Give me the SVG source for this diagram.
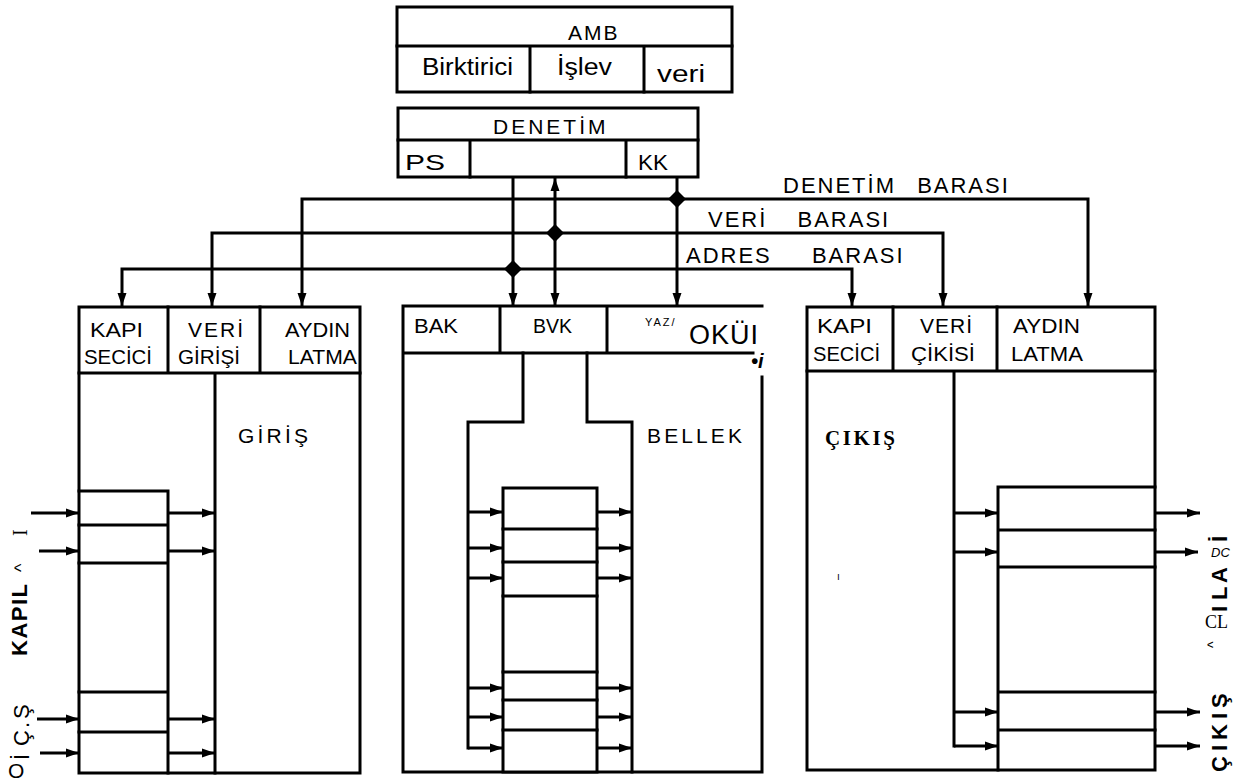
<svg xmlns="http://www.w3.org/2000/svg" width="1234" height="783" viewBox="0 0 1234 783">
<style>
.ln{fill:none;stroke:#000;stroke-width:3;stroke-linejoin:miter;stroke-linecap:square}
.bx{fill:#fff;stroke:#000;stroke-width:3}
.ar{fill:none;stroke:#000;stroke-width:3;marker-end:url(#ah)}
.t{font-family:"Liberation Sans",Arial,sans-serif;font-size:21px;fill:#000}
.bus{font-family:"Liberation Sans",Arial,sans-serif;font-size:22px;letter-spacing:2px;fill:#000}
.b{font-weight:bold}
.sr{font-family:"Liberation Serif","Times New Roman",serif;font-weight:bold;fill:#000}
</style>
<defs>
<marker id="ah" markerWidth="14" markerHeight="12" refX="13" refY="6" orient="auto" markerUnits="userSpaceOnUse">
<path d="M0,1.5 L13,6 L0,10.5 Z" fill="#000"/>
</marker>
<path id="dm" d="M0,-9 L9,0 L0,9 L-9,0 Z" fill="#000"/>
</defs>
<rect width="1234" height="783" fill="#fff"/>

<g id="amb">
<rect class="bx" x="397" y="7" width="335" height="85"/>
<path class="ln" d="M397,46 H732 M530,46 V92 M644,46 V92"/>
<text class="t" x="568" y="40" style="letter-spacing:2px">AMB</text>
<text class="t" x="422" y="75" style="font-size:23px" textLength="91" lengthAdjust="spacingAndGlyphs">Birktirici</text>
<text class="t" x="557" y="75" style="font-size:23px" textLength="55" lengthAdjust="spacingAndGlyphs">İşlev</text>
<text class="t" x="657" y="82" style="font-size:23px" textLength="48" lengthAdjust="spacingAndGlyphs">veri</text>
</g>

<g id="denetim">
<rect class="bx" x="398" y="108" width="300" height="69"/>
<path class="ln" d="M398,140 H698 M470,140 V177 M626,140 V177"/>
<text class="t" x="493" y="134" style="letter-spacing:3px">DENETİM</text>
<text class="t" x="405" y="170" style="font-size:22px" textLength="40" lengthAdjust="spacingAndGlyphs">PS</text>
<text class="t" x="638" y="170" style="font-size:22px" textLength="30" lengthAdjust="spacingAndGlyphs">KK</text>
</g>

<g id="connectors">
<path class="ar" d="M677,199 H302 V306"/>
<path class="ar" d="M677,199 H1088 V306"/>
<path class="ar" d="M677,177 V306"/>
<path class="ar" d="M555,233 H212 V306"/>
<path class="ar" d="M555,233 H943 V306"/>
<path class="ar" d="M555,233 V178"/>
<path class="ar" d="M555,233 V306"/>
<path class="ar" d="M513,269 H122 V306"/>
<path class="ar" d="M513,269 H852 V306"/>
<path class="ar" d="M513,177 V306"/>
<use href="#dm" x="677" y="199"/>
<use href="#dm" x="555" y="233"/>
<use href="#dm" x="513" y="269"/>
<text class="bus" x="783" y="193">DENETİM <tspan dx="13">BARASI</tspan></text>
<text class="bus" x="708" y="227">VERİ <tspan dx="22">BARASI</tspan></text>
<text class="bus" x="686" y="263">ADRES <tspan dx="32">BARASI</tspan></text>
</g>

<g id="giris">
<rect class="bx" x="79" y="307" width="281" height="466"/>
<path class="ln" d="M79,373 H360 M168,307 V373 M260,307 V373 M215,373 V773"/>
<path class="ln" d="M79,491 H168 V773 M79,525 H168 M79,563 H168 M79,692 H168 M79,732 H168"/>
<text class="t" x="90" y="337" textLength="53" lengthAdjust="spacingAndGlyphs">KAPI</text>
<text class="t" x="84" y="364" textLength="68" lengthAdjust="spacingAndGlyphs">SECİCİ</text>
<text class="t" x="188" y="337" textLength="55">VERİ</text>
<text class="t" x="178" y="364" textLength="62" lengthAdjust="spacingAndGlyphs">GİRİŞİ</text>
<text class="t" x="285" y="337" textLength="65" lengthAdjust="spacingAndGlyphs">AYDIN</text>
<text class="t" x="288" y="364" textLength="69" lengthAdjust="spacingAndGlyphs">LATMA</text>
<text class="t" x="238" y="443" textLength="70">GİRİŞ</text>
<path class="ar" d="M31,513 H79"/>
<path class="ar" d="M168,513 H215"/>
<path class="ar" d="M39,551 H79"/>
<path class="ar" d="M168,551 H215"/>
<path class="ar" d="M37,719 H79"/>
<path class="ar" d="M168,719 H215"/>
<path class="ar" d="M40,753 H79"/>
<path class="ar" d="M168,753 H215"/>
</g>

<g id="bellek">
<path class="ln" d="M762,377 V772 H403 V306 H762 M403,353 H753 M500,306 V353 M607,306 V353"/>
<path class="ln" d="M523,353 V422 H468 V748 M587,353 V422 H632 V772"/>
<rect class="bx" x="503" y="488" width="94" height="284"/>
<path class="ln" d="M503,529 H597 M503,562 H597 M503,596 H597 M503,672 H597 M503,700 H597 M503,730 H597"/>
<path class="ar" d="M468,512 H503"/>
<path class="ar" d="M468,548 H503"/>
<path class="ar" d="M468,578 H503"/>
<path class="ar" d="M468,688 H503"/>
<path class="ar" d="M468,717 H503"/>
<path class="ar" d="M468,748 H503"/>
<path class="ar" d="M597,512 H632"/>
<path class="ar" d="M597,548 H632"/>
<path class="ar" d="M597,578 H632"/>
<path class="ar" d="M597,688 H632"/>
<path class="ar" d="M597,717 H632"/>
<path class="ar" d="M597,748 H632"/>
<text class="t" x="414" y="333" textLength="44" lengthAdjust="spacingAndGlyphs">BAK</text>
<text class="t" x="533" y="333" textLength="39" lengthAdjust="spacingAndGlyphs">BVK</text>
<text class="t" x="645" y="326" style="font-size:11px;letter-spacing:2px">YAZ/</text>
<text class="t" x="689" y="344" style="font-size:27px;letter-spacing:1px">OKÜI</text>
<text class="t b" x="751" y="368" style="font-size:20px;font-style:italic">•i</text>
<text class="t" x="647" y="443" textLength="95">BELLEK</text>
</g>

<g id="cikis">
<rect class="bx" x="807" y="307" width="348" height="463"/>
<path class="ln" d="M807,371 H1155 M893,307 V371 M997,307 V371 M954,371 V746"/>
<path class="ln" d="M998,487 H1155 M998,487 V770 M998,530 H1155 M998,567 H1155 M998,692 H1155 M998,730 H1155"/>
<path class="ar" d="M954,513 H998"/>
<path class="ar" d="M954,552 H998"/>
<path class="ar" d="M954,712 H998"/>
<path class="ar" d="M954,746 H998"/>
<path class="ar" d="M1155,513 H1200"/>
<path class="ar" d="M1155,552 H1198"/>
<path class="ar" d="M1155,712 H1200"/>
<path class="ar" d="M1155,746 H1200"/>
<text class="t" x="817" y="333" textLength="55" lengthAdjust="spacingAndGlyphs">KAPI</text>
<text class="t" x="813" y="361" textLength="67" lengthAdjust="spacingAndGlyphs">SECİCİ</text>
<text class="t" x="920" y="333" textLength="52">VERİ</text>
<text class="t" x="911" y="361" textLength="64" lengthAdjust="spacingAndGlyphs">ÇİKİSİ</text>
<text class="t" x="1013" y="333" textLength="67" lengthAdjust="spacingAndGlyphs">AYDIN</text>
<text class="t" x="1011" y="361" textLength="72" lengthAdjust="spacingAndGlyphs">LATMA</text>
<text class="sr" x="825" y="445" style="font-size:21px" textLength="70">ÇIKIŞ</text>
<text class="t" x="837" y="580" style="font-size:10px">ı</text>
</g>

<g id="side-labels">
<text class="t" transform="translate(27,656) rotate(-90)" style="font-size:22px"><tspan x="0" class="b" style="letter-spacing:1.5px">KAPIL</tspan><tspan x="84" style="font-size:18px">^</tspan><tspan x="120" class="sr" style="font-size:20px;font-weight:normal">I</tspan></text>
<text class="t" x="8" y="778">O</text>
<text class="t" transform="translate(29,761) rotate(-90)" style="font-size:22px"><tspan x="1">İ</tspan><tspan x="15">Ç</tspan><tspan x="33">.</tspan><tspan x="42">Ş</tspan></text>
<text class="t" transform="translate(1218,648) rotate(-90)" style="font-size:14px">^</text>
<text class="sr" x="1205" y="628" style="font-size:18px;font-weight:normal">CL</text>
<text class="t b" transform="translate(1227,614) rotate(-90)" style="font-size:22px"><tspan x="2">I</tspan><tspan x="14">L</tspan><tspan x="31">A</tspan><tspan x="72">İ</tspan></text>
<text class="t" x="1211" y="557" style="font-size:13px;font-style:italic">DC</text>
<text class="t b" transform="translate(1227,772) rotate(-90)" style="font-size:22px;letter-spacing:5px">ÇIKIŞ</text>
</g>
</svg>
